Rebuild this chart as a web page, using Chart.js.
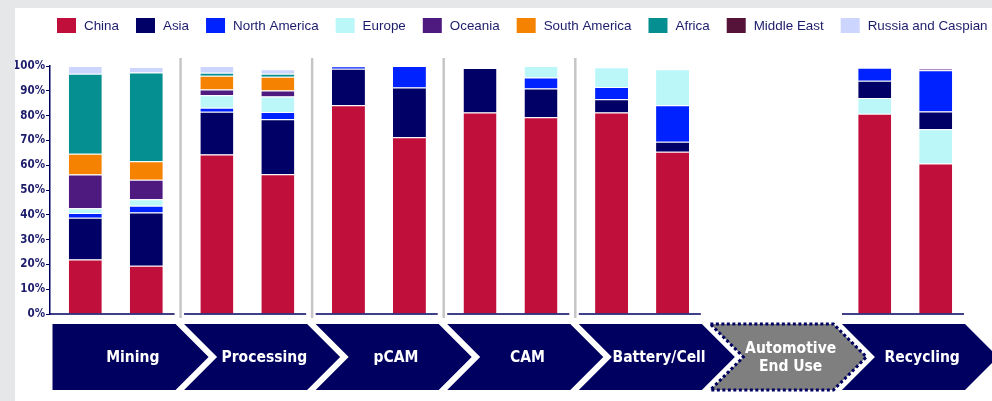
<!DOCTYPE html>
<html>
<head>
<meta charset="utf-8">
<script src="https://cdn.jsdelivr.net/npm/chart.js@4.4.1/dist/chart.umd.min.js"></script>
<style>
  html, body { margin: 0; padding: 0; background: #e6e7e9; }
  #wrap { position: absolute; left: 15px; top: 8px; width: 977px; height: 393px; background: #fff; }
</style>
</head>
<body>
<div id="wrap"><canvas id="chart"></canvas></div>
<script>
const stages = ['Mining', 'Processing', 'pCAM', 'CAM', 'Battery/Cell', ['Automotive', 'End Use'], 'Recycling'];
const regions = ['China', 'Asia', 'North America', 'Europe', 'Oceania', 'South America', 'Africa', 'Middle East', 'Russia and Caspian'];
const colors = ['#c10f3c', '#010066', '#0022ff', '#bbf7f8', '#4f1a7f', '#f58200', '#068f91', '#561339', '#ccd5fd'];
const yTickLabels = ['0%', '10%', '20%', '30%', '40%', '50%', '60%', '70%', '80%', '90%', '100%'];

// share in % - left bar (A) and right bar (B) of each stage
const chinaA = [22.0, 64.3, 84.2, 81.3, 81.3, null, 80.7];
const chinaB = [19.5, 56.4, 71.3, 79.3, 65.4, null, 60.7];
const asiaA = [16.8, 17.3, 14.7, 17.9, 5.3, null, 7.0];
const asiaB = [21.4, 22.1, 20.0, 11.6, 4.1, null, 7.2];
const northAmericaA = [1.9, 1.6, 1.0, 0, 4.9, null, 5.2];
const northAmericaB = [2.7, 3.0, 8.7, 4.5, 14.7, null, 16.6];
const europeA = [1.9, 5.0, 0, 0, 8.0, null, 6.4];
const europeB = [2.7, 6.2, 0, 4.6, 14.5, null, 13.8];
const oceaniaA = [13.6, 2.3, 0, 0, 0, null, 0];
const oceaniaB = [7.8, 2.4, 0, 0, 0, null, 0.6];
const southAmericaA = [8.4, 5.6, 0, 0, 0, null, 0];
const southAmericaB = [7.5, 5.6, 0, 0, 0, null, 0];
const africaA = [32.3, 1.2, 0, 0, 0, null, 0];
const africaB = [35.8, 1.2, 0, 0, 0, null, 0];
const middleEastA = [0, 0, 0, 0, 0, null, 0];
const middleEastB = [0, 0, 0, 0, 0, null, 0];
const russiaA = [3.1, 2.7, 0, 0, 0, null, 0];
const russiaB = [2.2, 1.8, 0, 0, 0, null, 0];

// in recycling Europe sits directly on top of China
const europeLowStages = ['Recycling'];

const seriesA = [chinaA, asiaA, northAmericaA, europeA, oceaniaA, southAmericaA, africaA, middleEastA, russiaA];
const seriesB = [chinaB, asiaB, northAmericaB, europeB, oceaniaB, southAmericaB, africaB, middleEastB, russiaB];

const NAVY = '#000060';
const TEXT = '#1c1c6b';
const NARROW = '"DejaVu Sans Condensed", "Liberation Sans", Arial, sans-serif';

function clean(arr, keep) {
  return arr.map((v, i) => (keep(i) && v) ? v : null);
}

const isLow = i => europeLowStages.includes(stages[i]);
const datasets = [];
function addRegion(r, keep) {
  [['A', seriesA], ['B', seriesB]].forEach(([stack, src]) => {
    datasets.push({
      label: regions[r],
      stack: stack,
      data: clean(src[r], keep),
      backgroundColor: colors[r],
      borderColor: '#ffffff',
      borderWidth: { top: 1, left: 0, right: 0, bottom: 0 },
      borderSkipped: false
    });
  });
}
addRegion(0, () => true);
addRegion(3, isLow);
addRegion(1, () => true);
addRegion(2, () => true);
addRegion(3, i => !isLow(i));
for (let r = 4; r < regions.length; r++) addRegion(r, () => true);

const chevrons = {
  id: 'chevrons',
  beforeDraw(chart) {
    const { ctx, chartArea: a } = chart;
    const w = (a.right - a.left) / stages.length;
    const top = a.bottom + 10, bot = a.bottom + 76, mid = (top + bot) / 2, d = (bot - top) / 2;
    ctx.save();
    stages.forEach((s, i) => {
      const l = a.left + i * w + 2.5, r = l + w - 8.5;
      ctx.beginPath();
      ctx.moveTo(l, top);
      ctx.lineTo(r, top);
      ctx.lineTo(r + d, mid);
      ctx.lineTo(r, bot);
      ctx.lineTo(l, bot);
      if (i > 0) ctx.lineTo(l + d, mid);
      ctx.closePath();
      const empty = chinaA[i] == null;
      ctx.fillStyle = empty ? '#7f7f7f' : NAVY;
      ctx.fill();
      if (empty) {
        ctx.setLineDash([3, 2.5]);
        ctx.lineWidth = 3;
        ctx.strokeStyle = NAVY;
        ctx.stroke();
        ctx.setLineDash([]);
      }
    });
    ctx.restore();
  }
};

const groupLines = {
  id: 'groupLines',
  afterDatasetsDraw(chart) {
    const { ctx, chartArea: a } = chart;
    const w = (a.right - a.left) / stages.length;
    ctx.save();
    ctx.strokeStyle = '#c6c6c6';
    ctx.lineWidth = 2.5;
    for (let i = 1; i <= 4; i++) {
      const x = a.left + i * w - 1;
      ctx.beginPath();
      ctx.moveTo(x, a.top - 8);
      ctx.lineTo(x, a.bottom + 4);
      ctx.stroke();
    }
    ctx.strokeStyle = NAVY;
    ctx.lineWidth = 1.5;
    stages.forEach((s, i) => {
      if (chinaA[i] == null) return;
      ctx.beginPath();
      ctx.moveTo(a.left + i * w + (i === 0 ? 0 : 2.5), a.bottom);
      ctx.lineTo(a.left + (i + 1) * w - 7, a.bottom);
      ctx.stroke();
    });
    ctx.restore();
  }
};

const regionLegend = {
  id: 'regionLegend',
  afterDraw(chart) {
    const ctx = chart.ctx;
    let x = 42;
    const y = 10;
    ctx.save();
    ctx.font = '13.4px "Liberation Sans", Arial, sans-serif';
    ctx.textBaseline = 'middle';
    regions.forEach((name, i) => {
      ctx.fillStyle = colors[i];
      ctx.fillRect(x, y, 19, 15);
      ctx.fillStyle = TEXT;
      ctx.fillText(name, x + 27, y + 8);
      x += 27 + ctx.measureText(name).width + 17;
    });
    ctx.restore();
  }
};

new Chart(document.getElementById('chart'), {
  type: 'bar',
  data: { labels: stages, datasets: datasets },
  options: {
    responsive: true,
    maintainAspectRatio: false,
    animation: false,
    categoryPercentage: 0.927,
    barPercentage: 0.541,
    layout: { padding: { left: 0, top: 58, right: 21, bottom: 0 } },
    plugins: {
      legend: { display: false },
      tooltip: { enabled: false }
    },
    scales: {
      x: {
        stacked: true,
        afterFit: s => { s.height = 87; },
        grid: { display: false, drawTicks: false },
        border: { display: false },
        ticks: {
          color: '#ffffff',
          padding: 35,
          labelOffset: 17,
          crossAlign: 'center',
          maxRotation: 0,
          autoSkip: false,
          font: { family: NARROW, weight: 'bold', size: 15.5, lineHeight: 1.16 }
        }
      },
      y: {
        stacked: true,
        min: 0,
        max: 100,
        afterFit: s => { s.width = 35; },
        grid: { drawOnChartArea: false, drawTicks: true, tickLength: 4, color: NAVY },
        border: { color: NAVY, width: 1.5 },
        ticks: {
          stepSize: 10,
          padding: 1,
          color: TEXT,
          font: { family: NARROW, weight: 'bold', size: 11.5 },
          callback: (v, i) => yTickLabels[i]
        }
      }
    }
  },
  plugins: [chevrons, groupLines, regionLegend]
});
</script>
</body>
</html>
